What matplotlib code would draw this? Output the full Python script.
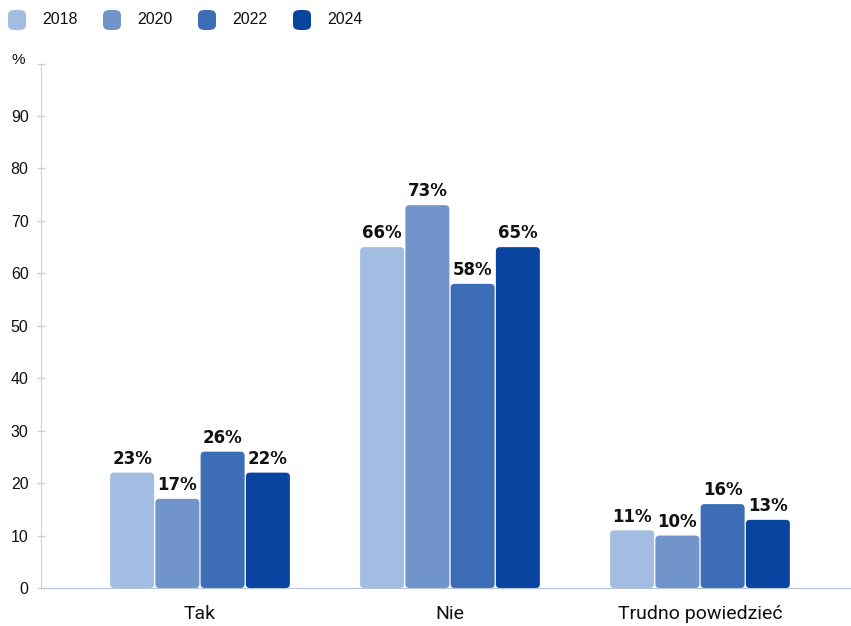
import numpy as np
import matplotlib.pyplot as plt
from matplotlib.patches import FancyBboxPatch

# dane
categories = ["Tak", "Nie", "Trudno powiedzieć"]
years = ["2018", "2020", "2022", "2024"]
values = {
    "2018": [22, 65, 11],
    "2020": [17, 73, 10],
    "2022": [26, 58, 16],
    "2024": [22, 65, 13],
}
labels = {
    "2018": ["23%", "66%", "11%"],
    "2020": ["17%", "73%", "10%"],
    "2022": ["26%", "58%", "16%"],
    "2024": ["22%", "65%", "13%"],
}
colors = ["#A3BCE1", "#7195CB", "#3D6EB5", "#0944A0"]

W, H = 851, 626
fig = plt.figure(figsize=(W / 100, H / 100), dpi=100)
ax = fig.add_axes([41 / W, 38 / H, 810 / W, 524.4 / H])

x = np.arange(len(categories))
slot = 0.181
bw = 0.176
for i, y in enumerate(years):
    pos = x + (i - 1.5) * slot
    for px, v, lab in zip(pos, values[y], labels[y]):
        # slupek z lekko zaokraglonymi rogami
        p = FancyBboxPatch((px - bw / 2, 0), bw, v,
                           boxstyle="round,pad=0,rounding_size=0.016",
                           mutation_aspect=(0.181 / 45.25) ** -1 * (100 / 524.4),
                           fc=colors[i], ec="none")
        ax.add_patch(p)
        ax.text(px, v + 0.9, lab, ha="center", va="bottom", fontsize=12,
                fontweight="bold", family="DejaVu Sans", color="#111111")

ax.set_xlim(-0.636, 2.604)
ax.set_ylim(0, 100)
ax.set_yticks(range(0, 101, 10))
ax.set_yticklabels([str(t) for t in range(0, 91, 10)] + [""])
ax.set_xticks(x)
ax.set_xticklabels(categories, fontsize=14, family="Roboto")
ax.tick_params(axis="x", length=0, pad=12, colors="#111111")
ax.tick_params(axis="y", direction="inout", length=6, width=1, color="#CBD3DF",
               labelsize=11.5, pad=6, labelcolor="#111111")
for lab in ax.get_yticklabels():
    lab.set_family("Liberation Sans")
for s in ["top", "right"]:
    ax.spines[s].set_visible(False)
ax.spines["left"].set_color("#CBD3DF")
ax.spines["bottom"].set_color("#B5C3DE")

fig.text(18 / W, 1 - 60 / H, "%", ha="center", va="center", fontsize=11,
         family="Liberation Sans", color="#111111")

# legenda
lx = [8, 103, 198, 293]
for i, y in enumerate(years):
    fig.patches.append(FancyBboxPatch((lx[i] / W, 1 - 30 / H), 18 / W, 20 / H,
                                      boxstyle="round,pad=0,rounding_size=0.008",
                                      transform=fig.transFigure, fc=colors[i], ec="none"))
    fig.text((lx[i] + 34) / W, 1 - 19 / H, y, ha="left", va="center", fontsize=11.5,
             family="Liberation Sans", color="#111111")

fig.savefig("out.png", dpi=100)
